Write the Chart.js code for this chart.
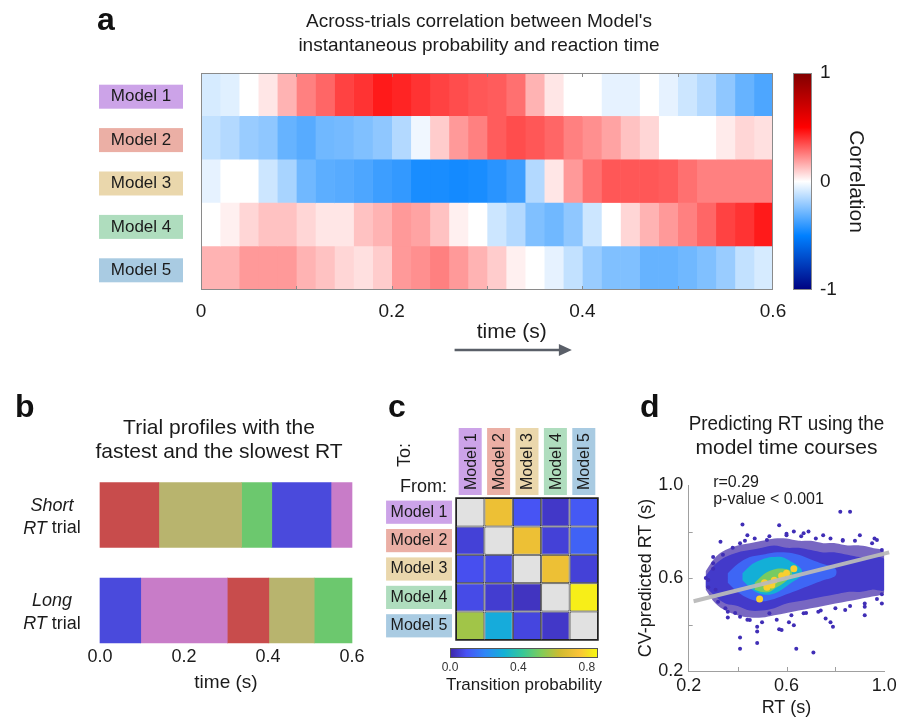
<!DOCTYPE html>
<html>
<head>
<meta charset="utf-8">
<script src="https://cdn.jsdelivr.net/npm/chart.js@4.4.1/dist/chart.umd.min.js"></script>
<style>
  body { margin: 0; background: #fff; }
  #wrap { position: relative; width: 905px; height: 719px; overflow: hidden; font-family: "Liberation Sans", Arial, sans-serif; }
  canvas { position: absolute; }
  .tag { position: absolute; font-weight: bold; font-size: 32px; line-height: 32px; color: #111; }
</style>
</head>
<body>
<div id="wrap">
  <canvas id="heat" width="905" height="360" style="left:0;top:0"></canvas>
  <canvas id="heatBar" width="125" height="360" style="left:780px;top:0"></canvas>
  <canvas id="trials" width="438" height="339" style="left:0;top:380px"></canvas>
  <canvas id="trans" width="250" height="339" style="left:380px;top:380px"></canvas>
  <canvas id="transBar" width="200" height="79" style="left:430px;top:640px"></canvas>
  <canvas id="pred" width="275" height="339" style="left:630px;top:380px"></canvas>
  <div class="tag" style="left:97px;top:3px">a</div>
  <div class="tag" style="left:15px;top:390px">b</div>
  <div class="tag" style="left:388px;top:390px">c</div>
  <div class="tag" style="left:640px;top:390px">d</div>
</div>
<script>
// ---- data ----
const MODELS = ['Model 1', 'Model 2', 'Model 3', 'Model 4', 'Model 5'];
const LABEL_COLORS = ['#CCA3E8', '#EBAFA5', '#EAD7AC', '#AFDDBE', '#A9CBE2'];

// panel a: correlation per 20 ms bin (bin start, s)
const TIME_BINS = [0, 0.02, 0.04, 0.06, 0.08, 0.10, 0.12, 0.14, 0.16, 0.18, 0.20, 0.22, 0.24, 0.26, 0.28,
  0.30, 0.32, 0.34, 0.36, 0.38, 0.40, 0.42, 0.44, 0.46, 0.48, 0.50, 0.52, 0.54, 0.56, 0.58];
const BIN_WIDTH = 0.02;
const CORR_M1 = [-0.08, -0.06, 0, 0.05, 0.15, 0.25, 0.3, 0.37, 0.4, 0.45, 0.43, 0.4, 0.37, 0.35, 0.33, 0.32, 0.28, 0.15, 0.05, 0, 0, -0.05, -0.05, 0, -0.05, -0.1, -0.15, -0.22, -0.3, -0.35];
const CORR_M2 = [-0.12, -0.15, -0.2, -0.22, -0.3, -0.33, -0.28, -0.27, -0.25, -0.22, -0.15, -0.03, 0.1, 0.2, 0.25, 0.32, 0.35, 0.33, 0.3, 0.25, 0.22, 0.18, 0.12, 0.08, 0, 0, 0, 0.04, 0.08, 0.06];
const CORR_M3 = [-0.05, 0, 0, -0.1, -0.17, -0.28, -0.32, -0.33, -0.35, -0.38, -0.4, -0.45, -0.45, -0.46, -0.45, -0.42, -0.38, -0.15, 0.05, 0.2, 0.28, 0.33, 0.33, 0.33, 0.32, 0.28, 0.25, 0.25, 0.25, 0.25];
const CORR_M4 = [0, 0.03, 0.08, 0.12, 0.12, 0.08, 0.05, 0.05, 0.12, 0.15, 0.2, 0.18, 0.12, 0.03, 0, -0.1, -0.15, -0.25, -0.28, -0.22, -0.1, 0, 0.08, 0.15, 0.2, 0.25, 0.3, 0.37, 0.4, 0.45];
const CORR_M5 = [0.15, 0.15, 0.2, 0.2, 0.2, 0.15, 0.12, 0.08, 0.06, 0.1, 0.2, 0.22, 0.25, 0.2, 0.15, 0.1, 0.03, 0, -0.05, -0.12, -0.2, -0.25, -0.25, -0.3, -0.3, -0.28, -0.25, -0.2, -0.12, -0.08];
const CORR_ROWS = [CORR_M1, CORR_M2, CORR_M3, CORR_M4, CORR_M5];
const HEAT_TICKS = [0.1, 0.2, 0.3, 0.4, 0.5];

// panel b: state sequence of the two example trials (s)
const TRIAL_LABELS = ['Short RT trial', 'Long RT trial'];
const STATE_COLORS = ['#C87CC8', '#C84C4C', '#B8B46E', '#6CC86E', '#4A4ADC'];
const SHORT_BOUNDS = [0, 0.14, 0.337, 0.409, 0.55, 0.6];
const SHORT_STATES = [2, 3, 4, 5, 1];
const LONG_BOUNDS = [0, 0.097, 0.303, 0.402, 0.51, 0.6];
const LONG_STATES = [5, 1, 2, 3, 4];

// panel c: transition probability, from (row) -> to (column)
const TRANS = [
  [null, 0.72, 0.10, 0.04, 0.11],
  [0.06, null, 0.72, 0.06, 0.13],
  [0.09, 0.08, null, 0.72, 0.06],
  [0.08, 0.05, 0.03, null, 0.84],
  [0.58, 0.30, 0.07, 0.04, null]
];
const TRANS_MAX = 0.865;

// panel d: density cloud outlines (x = RT, y = predicted RT) and sparse points
const CLOUD_X = [0.27, 0.31, 0.35, 0.40, 0.45, 0.50, 0.55, 0.60, 0.65, 0.70, 0.75, 0.80, 0.85, 0.90, 0.95, 1.00];
const OUTER_TOP = [0.63, 0.69, 0.72, 0.74, 0.75, 0.76, 0.77, 0.77, 0.76, 0.76, 0.75, 0.75, 0.74, 0.74, 0.73, 0.71];
const OUTER_BOTTOM = [0.55, 0.49, 0.46, 0.44, 0.43, 0.43, 0.44, 0.45, 0.46, 0.47, 0.48, 0.49, 0.50, 0.51, 0.52, 0.54];
const SOLID_TOP = [0.61, 0.66, 0.69, 0.71, 0.72, 0.73, 0.74, 0.73, 0.73, 0.72, 0.71, 0.71, 0.70, 0.69, 0.69, 0.68];
const SOLID_BOTTOM = [0.56, 0.52, 0.49, 0.48, 0.46, 0.46, 0.47, 0.49, 0.50, 0.51, 0.52, 0.53, 0.54, 0.54, 0.55, 0.55];
const CORE_X = [0.36, 0.40, 0.45, 0.50, 0.55, 0.60, 0.65, 0.70, 0.75, 0.80];
const CORE_TOP = [0.62, 0.66, 0.69, 0.70, 0.71, 0.71, 0.70, 0.68, 0.66, 0.64];
const CORE_BOTTOM = [0.58, 0.54, 0.51, 0.50, 0.51, 0.53, 0.55, 0.57, 0.59, 0.61];
const CYAN_X = [0.42, 0.46, 0.50, 0.54, 0.58, 0.62, 0.66];
const CYAN_TOP = [0.62, 0.66, 0.68, 0.69, 0.69, 0.67, 0.64];
const CYAN_BOTTOM = [0.59, 0.55, 0.53, 0.53, 0.55, 0.58, 0.61];
const HOT_X = [0.47, 0.50, 0.53, 0.56, 0.59, 0.62];
const HOT_TOP = [0.58, 0.61, 0.63, 0.64, 0.64, 0.63];
const HOT_BOTTOM = [0.55, 0.54, 0.54, 0.56, 0.58, 0.61];
const HOT_SPOTS = [[0.52, 0.56], [0.55, 0.59], [0.58, 0.61], [0.49, 0.51], [0.54, 0.57], [0.60, 0.62], [0.63, 0.64], [0.51, 0.58]];
const SPECKLES = [
  [0.82, 0.885], [0.86, 0.885], [0.42, 0.83], [0.57, 0.827], [0.44, 0.784], [0.60, 0.784], [0.67, 0.792], [0.75, 0.784],
  [0.90, 0.784], [0.33, 0.756], [0.41, 0.749], [0.52, 0.763], [0.83, 0.763], [0.97, 0.763], [0.30, 0.663], [0.28, 0.591],
  [0.32, 0.498], [0.36, 0.455], [0.41, 0.433], [0.45, 0.419], [0.48, 0.39], [0.41, 0.344], [0.58, 0.376], [0.63, 0.397],
  [0.76, 0.426], [0.79, 0.39], [0.84, 0.462], [0.92, 0.476], [0.99, 0.49], [0.53, 0.448], [0.67, 0.448], [0.73, 0.455],
  [0.41, 0.296], [0.48, 0.32], [0.64, 0.296], [0.71, 0.28], [0.48, 0.37], [0.57, 0.38], [0.61, 0.41], [0.78, 0.41],
  [0.92, 0.44], [0.36, 0.43], [0.30, 0.69], [0.96, 0.77], [0.69, 0.80], [0.63, 0.80],
  [0.30, 0.64], [0.31, 0.55], [0.34, 0.70], [0.35, 0.47], [0.38, 0.73], [0.39, 0.45], [0.43, 0.76], [0.44, 0.42],
  [0.47, 0.77], [0.50, 0.41], [0.53, 0.78], [0.56, 0.42], [0.60, 0.79], [0.62, 0.44], [0.66, 0.78], [0.68, 0.45],
  [0.72, 0.77], [0.74, 0.46], [0.78, 0.77], [0.80, 0.47], [0.83, 0.76], [0.86, 0.48], [0.88, 0.76], [0.92, 0.49],
  [0.95, 0.75], [0.97, 0.51], [0.99, 0.72], [0.99, 0.53], [0.27, 0.60], [0.28, 0.56]
];
const FIT_X = [0.22, 1.02];
const FIT_Y = [0.50, 0.71];
const PRED_TICKS = [0.4, 0.6, 0.8];

// ---- colours ----
const FONT = '"Liberation Sans", Arial, sans-serif';
const INK = '#1b1b1b';
Chart.defaults.font.family = FONT;
Chart.defaults.color = INK;

const CORR_STOPS = [[-1, [0, 0, 128]], [-0.5, [0, 128, 255]], [0, [255, 255, 255]], [0.5, [255, 0, 0]], [1, [128, 0, 0]]];
const PARULA_STOPS = [[0, [62, 38, 168]], [0.111, [72, 82, 244]], [0.238, [46, 135, 247]], [0.365, [18, 177, 214]],
  [0.492, [55, 200, 151]], [0.619, [129, 204, 89]], [0.746, [209, 187, 48]], [0.873, [250, 195, 55]],
  [0.94, [245, 225, 35]], [1, [249, 251, 14]]];

function ramp(stops, v, alpha) {
  let c = stops[stops.length - 1][1];
  if (v <= stops[0][0]) c = stops[0][1];
  else {
    for (let i = 1; i < stops.length; i++) {
      if (v <= stops[i][0]) {
        const [v0, c0] = stops[i - 1], [v1, c1] = stops[i];
        const f = (v - v0) / (v1 - v0);
        c = c0.map((ch, k) => ch + (c1[k] - ch) * f);
        break;
      }
    }
  }
  const a = alpha == null ? 1 : alpha;
  return 'rgba(' + c.map(Math.round).join(',') + ',' + a + ')';
}

const noChrome = { legend: { display: false }, tooltip: { enabled: false } };
const noGrid = { display: false, drawTicks: false };

// ---- panel a: heatmap ----
const heatSets = TIME_BINS.map((t, k) => ({
  data: CORR_ROWS.map(() => [t, t + BIN_WIDTH]),
  backgroundColor: CORR_ROWS.map(r => ramp(CORR_STOPS, r[k])),
  borderWidth: 0, grouped: false, barPercentage: 1, categoryPercentage: 1
}));

const heatExtras = {
  id: 'heatExtras',
  afterDraw(chart) {
    const { ctx, chartArea: a, scales: { x } } = chart;
    ctx.save();
    ctx.strokeStyle = '#8a8a8a';
    ctx.lineWidth = 1;
    ctx.strokeRect(a.left + 0.5, a.top + 0.5, a.width - 1, a.height - 1);
    ctx.beginPath();
    HEAT_TICKS.forEach(t => {
      const px = Math.round(x.getPixelForValue(t)) + 0.5;
      ctx.moveTo(px, a.top); ctx.lineTo(px, a.top + 4);
      ctx.moveTo(px, a.bottom); ctx.lineTo(px, a.bottom - 4);
    });
    ctx.stroke();
    // axis caption with arrow
    ctx.fillStyle = INK;
    ctx.font = '21px ' + FONT;
    ctx.textAlign = 'center';
    ctx.textBaseline = 'middle';
    ctx.fillText('time (s)', x.getPixelForValue(0.326), a.bottom + 42);
    const x0 = x.getPixelForValue(0.266), x1 = x.getPixelForValue(0.389), ya = a.bottom + 60;
    ctx.strokeStyle = '#5a5f68';
    ctx.fillStyle = '#5a5f68';
    ctx.lineWidth = 2.5;
    ctx.beginPath(); ctx.moveTo(x0, ya); ctx.lineTo(x1 - 8, ya); ctx.stroke();
    ctx.beginPath(); ctx.moveTo(x1, ya); ctx.lineTo(x1 - 13, ya - 6); ctx.lineTo(x1 - 13, ya + 6); ctx.closePath(); ctx.fill();
    ctx.restore();
  }
};

new Chart(document.getElementById('heat'), {
  type: 'bar',
  data: { labels: MODELS, datasets: heatSets },
  options: {
    indexAxis: 'y', responsive: false, animation: false,
    layout: { padding: { left: 90, right: 37, top: 0, bottom: 0 } },
    plugins: Object.assign({
      title: {
        display: true, fullSize: true,
        text: ["Across-trials correlation between Model's", 'instantaneous probability and reaction time'],
        font: { size: 19, weight: 'normal', lineHeight: 1.263 }, color: INK,
        padding: { top: 10, bottom: 15 }
      }
    }, noChrome),
    scales: {
      x: {
        type: 'linear', min: 0, max: 0.6,
        grid: noGrid, border: { display: false },
        ticks: { stepSize: 0.2, padding: 10.6, font: { size: 19 }, color: INK,
          callback: v => v === 0 ? '0' : v.toFixed(1) },
        afterFit: s => { s.height = 70; }
      },
      y: {
        grid: noGrid, border: { display: false },
        ticks: {
          padding: 29.75, labelOffset: 2, font: { size: 17 }, color: INK,
          showLabelBackdrop: true,
          backdropColor: c => LABEL_COLORS[c.index],
          backdropPadding: { top: 1.8, bottom: 1.8, left: 11.75, right: 11.75 }
        },
        afterFit: s => { s.width = 111; }
      },
      // empty spacer on the right so the title centres like the original
      yRight: {
        type: 'category', labels: MODELS, position: 'right',
        grid: noGrid, border: { display: false }, ticks: { display: false },
        afterFit: s => { s.width = 95; }
      }
    }
  },
  plugins: [heatExtras]
});

// colour bar of panel a
const corrBar = {
  id: 'corrBar',
  afterDraw(chart) {
    const { ctx, chartArea: a, scales: { y } } = chart;
    const g = ctx.createLinearGradient(0, y.getPixelForValue(-1), 0, y.getPixelForValue(1));
    CORR_STOPS.forEach(([v]) => {
      for (let s = 0; s <= 4; s++) {
        const vv = Math.min(1, v + s * 0.1);
        g.addColorStop((vv + 1) / 2, ramp(CORR_STOPS, vv));
      }
    });
    ctx.save();
    ctx.fillStyle = g;
    ctx.fillRect(a.left, a.top, a.width, a.height);
    ctx.strokeStyle = '#8a8a8a';
    ctx.lineWidth = 1;
    ctx.strokeRect(a.left + 0.5, a.top + 0.5, a.width - 1, a.height - 1);
    ctx.restore();
  }
};

new Chart(document.getElementById('heatBar'), {
  type: 'bar',
  data: { labels: [], datasets: [] },
  options: {
    responsive: false, animation: false,
    layout: { padding: { left: 13, right: 0, top: 73, bottom: 70 } },
    plugins: noChrome,
    scales: {
      x: { display: false },
      y: {
        position: 'right', min: -1, max: 1,
        grid: noGrid, border: { display: false },
        ticks: { stepSize: 1, padding: 8, font: { size: 19 }, color: INK },
        title: { display: true, text: 'Correlation', font: { size: 21 }, color: INK, padding: { top: 37, bottom: 0 } },
        afterFit: s => { s.width = 93; }
      }
    }
  },
  plugins: [corrBar]
});

// ---- panel b: trial profiles ----
const trialSets = SHORT_STATES.map((st, k) => ({
  data: [[SHORT_BOUNDS[k], SHORT_BOUNDS[k + 1]], [LONG_BOUNDS[k], LONG_BOUNDS[k + 1]]],
  backgroundColor: [STATE_COLORS[st - 1], STATE_COLORS[LONG_STATES[k] - 1]],
  borderWidth: 0, barThickness: 65, grouped: false, clip: false
}));

const trialLabels = {
  id: 'trialLabels',
  afterDraw(chart) {
    const { ctx, scales: { y } } = chart;
    const lines = [
      [[['Short', true]], [['RT', true], [' trial', false]]],
      [[['Long', true]], [['RT', true], [' trial', false]]]
    ];
    ctx.save();
    ctx.fillStyle = INK;
    ctx.textBaseline = 'middle';
    ctx.textAlign = 'left';
    lines.forEach((rows, i) => {
      const yc = y.getPixelForValue(i);
      rows.forEach((parts, r) => {
        const yy = yc + (r === 0 ? -9.5 : 13.5);
        const widths = parts.map(([t, it]) => { ctx.font = (it ? 'italic ' : '') + '18px ' + FONT; return ctx.measureText(t).width; });
        let xx = 52 - widths.reduce((s, w) => s + w, 0) / 2;
        parts.forEach(([t, it], p) => {
          ctx.font = (it ? 'italic ' : '') + '18px ' + FONT;
          ctx.fillText(t, xx, yy);
          xx += widths[p];
        });
      });
    });
    ctx.restore();
  }
};

new Chart(document.getElementById('trials'), {
  type: 'bar',
  data: { labels: TRIAL_LABELS, datasets: trialSets },
  options: {
    indexAxis: 'y', responsive: false, animation: false,
    layout: { padding: { left: 86, right: 86, top: 0, bottom: 0 } },
    plugins: Object.assign({
      title: {
        display: true, fullSize: true,
        text: ['Trial profiles with the', 'fastest and the slowest RT'],
        font: { size: 21, weight: 'normal', lineHeight: 1.143 }, color: INK,
        padding: { top: 36, bottom: 51 }
      }
    }, noChrome),
    scales: {
      x: {
        type: 'linear', min: 0, max: 0.6,
        grid: noGrid, border: { display: false },
        ticks: { stepSize: 0.2, padding: 35.7, font: { size: 18 }, color: INK, callback: v => v.toFixed(1) },
        title: { display: true, text: 'time (s)', font: { size: 19 }, color: INK, padding: { top: 0, bottom: 24.6 } },
        afterFit: s => { s.height = 108.5; }
      },
      y: {
        offset: false,
        grid: noGrid, border: { display: false },
        ticks: { display: false },
        afterFit: s => { s.width = 14; }
      }
    }
  },
  plugins: [trialLabels]
});

// ---- panel c: transition matrix ----
const transSets = MODELS.map((m, j) => ({
  data: MODELS.map(() => [j, j + 1]),
  backgroundColor: TRANS.map(row => row[j] == null ? '#E1E1E1' : ramp(PARULA_STOPS, row[j] / TRANS_MAX)),
  borderColor: '#262626', borderWidth: 1, borderSkipped: false,
  grouped: false, barPercentage: 1, categoryPercentage: 1, inflateAmount: 0
}));

const transExtras = {
  id: 'transExtras',
  afterDraw(chart) {
    const { ctx, chartArea: a, scales: { x } } = chart;
    ctx.save();
    ctx.font = '16px ' + FONT;
    MODELS.forEach((m, j) => {
      const cx = x.getPixelForValue(j + 0.5);
      ctx.fillStyle = LABEL_COLORS[j];
      ctx.fillRect(cx - 11.5, a.top - 70, 23, 67);
      ctx.save();
      ctx.translate(cx, a.top - 8);
      ctx.rotate(-Math.PI / 2);
      ctx.fillStyle = INK;
      ctx.textAlign = 'left';
      ctx.textBaseline = 'middle';
      ctx.fillText(m, 0, 1);
      ctx.restore();
    });
    ctx.fillStyle = INK;
    ctx.font = '18px ' + FONT;
    ctx.save();
    ctx.translate(a.left - 51, a.top - 43);
    ctx.rotate(-Math.PI / 2);
    ctx.textAlign = 'center';
    ctx.textBaseline = 'middle';
    ctx.fillText('To:', 0, 0);
    ctx.restore();
    ctx.textAlign = 'right';
    ctx.textBaseline = 'middle';
    ctx.fillText('From:', a.left - 9, a.top - 11);
    ctx.strokeStyle = '#222';
    ctx.lineWidth = 1.5;
    ctx.strokeRect(a.left, a.top, a.width, a.height);
    ctx.restore();
  }
};

new Chart(document.getElementById('trans'), {
  type: 'bar',
  data: { labels: MODELS, datasets: transSets },
  options: {
    indexAxis: 'y', responsive: false, animation: false,
    layout: { padding: { left: 0, right: 32, top: 118, bottom: 79 } },
    plugins: noChrome,
    scales: {
      x: { type: 'linear', min: 0, max: 5, display: false },
      y: {
        grid: noGrid, border: { display: false },
        ticks: {
          padding: 8.5, font: { size: 16 }, color: INK,
          showLabelBackdrop: true,
          backdropColor: c => LABEL_COLORS[c.index],
          backdropPadding: { top: 2, bottom: 2, left: 4.5, right: 4.5 }
        },
        afterFit: s => { s.width = 76; }
      }
    }
  },
  plugins: [transExtras]
});

const probBar = {
  id: 'probBar',
  afterDraw(chart) {
    const { ctx, chartArea: a, scales: { x } } = chart;
    const x0 = x.getPixelForValue(0), x1 = x.getPixelForValue(TRANS_MAX);
    const g = ctx.createLinearGradient(x0, 0, x1, 0);
    PARULA_STOPS.forEach(([t]) => g.addColorStop(t, ramp(PARULA_STOPS, t)));
    ctx.save();
    ctx.fillStyle = g;
    ctx.fillRect(x0, a.top, x1 - x0, a.height);
    ctx.strokeStyle = '#555';
    ctx.lineWidth = 1;
    ctx.strokeRect(x0 + 0.5, a.top + 0.5, x1 - x0 - 1, a.height - 1);
    ctx.fillStyle = INK;
    ctx.font = '17px ' + FONT;
    ctx.textAlign = 'center';
    ctx.textBaseline = 'middle';
    ctx.fillText('Transition probability', (x0 + x1) / 2, a.bottom + 27);
    ctx.restore();
  }
};

new Chart(document.getElementById('transBar'), {
  type: 'bar',
  data: { labels: [], datasets: [] },
  options: {
    responsive: false, animation: false,
    layout: { padding: { left: 20, right: 32, top: 8, bottom: 0 } },
    plugins: noChrome,
    scales: {
      y: { display: false },
      x: {
        type: 'linear', min: 0, max: TRANS_MAX, offset: false,
        grid: noGrid, border: { display: false },
        ticks: { stepSize: 0.4, includeBounds: false, padding: 2, font: { size: 12 }, color: '#333', callback: v => v.toFixed(1) },
        afterFit: s => { s.height = 61; }
      }
    }
  },
  plugins: [probBar]
});

// ---- panel d: prediction scatter ----
function envelope(xs, top, bottom, level, alpha, order) {
  const pts = xs.map((x, i) => ({ x, y: top[i] }))
    .concat(xs.map((x, i) => ({ x, y: bottom[i] })).reverse());
  return {
    data: pts, showLine: true, fill: 'shape', tension: 0.35,
    backgroundColor: ramp(PARULA_STOPS, level, alpha), borderWidth: 0, pointRadius: 0, order
  };
}

const predSets = [
  envelope(CLOUD_X, OUTER_TOP, OUTER_BOTTOM, 0.0, 0.7, 9),
  envelope(CLOUD_X, SOLID_TOP, SOLID_BOTTOM, 0.05, 1, 8),
  envelope(CORE_X, CORE_TOP, CORE_BOTTOM, 0.16, 1, 7),
  envelope(CYAN_X, CYAN_TOP, CYAN_BOTTOM, 0.36, 1, 6),
  envelope(HOT_X, HOT_TOP, HOT_BOTTOM, 0.6, 1, 5),
  {
    data: HOT_SPOTS.map(([x, y]) => ({ x, y })), order: 4,
    pointRadius: 3.5, pointBorderWidth: 0, backgroundColor: ramp(PARULA_STOPS, 0.9)
  },
  {
    data: SPECKLES.map(([x, y]) => ({ x, y })), order: 3,
    pointRadius: 2, pointBorderWidth: 0, backgroundColor: ramp(PARULA_STOPS, 0.02)
  },
  {
    data: FIT_X.map((x, i) => ({ x, y: FIT_Y[i] })), order: 1, clip: 10,
    showLine: true, borderColor: 'rgba(185,185,185,0.95)', borderWidth: 4, pointRadius: 0
  }
];

const predExtras = {
  id: 'predExtras',
  afterDraw(chart) {
    const { ctx, chartArea: a, scales: { x, y } } = chart;
    ctx.save();
    ctx.strokeStyle = '#a0a0a0';
    ctx.lineWidth = 1;
    ctx.beginPath();
    PRED_TICKS.forEach(v => {
      const px = Math.round(x.getPixelForValue(v)) + 0.5, py = Math.round(y.getPixelForValue(v)) + 0.5;
      ctx.moveTo(px, a.bottom); ctx.lineTo(px, a.bottom - 4);
      ctx.moveTo(a.left, py); ctx.lineTo(a.left + 4, py);
    });
    ctx.stroke();
    ctx.fillStyle = INK;
    ctx.font = '16px ' + FONT;
    ctx.textAlign = 'left';
    ctx.textBaseline = 'middle';
    ctx.fillText('r=0.29', x.getPixelForValue(0.3), a.top - 2);
    ctx.fillText('p-value < 0.001', x.getPixelForValue(0.3), a.top + 15);
    ctx.restore();
  }
};

const showMain = v => [2, 6, 10].includes(Math.round(v * 10)) ? v.toFixed(1) : '';

new Chart(document.getElementById('pred'), {
  type: 'scatter',
  data: { datasets: predSets },
  options: {
    responsive: false, animation: false,
    layout: { padding: { left: 0, right: 20.7, top: 0, bottom: 0 } },
    plugins: Object.assign({
      title: {
        display: true, fullSize: false,
        text: ['Predicting RT using the', 'model time courses'],
        font: { size: 21, weight: 'normal', lineHeight: 1.143 }, color: INK,
        padding: { top: 32, bottom: 25 }
      }
    }, noChrome),
    scales: {
      x: {
        type: 'linear', min: 0.2, max: 1.0,
        grid: noGrid, border: { color: '#a0a0a0' },
        ticks: { stepSize: 0.2, autoSkip: false, padding: 4.2, font: { size: 18 }, color: INK, callback: showMain },
        title: { display: true, text: 'RT (s)', font: { size: 18 }, color: INK, padding: { top: 0, bottom: 0.2 } },
        afterFit: s => { s.height = 48; }
      },
      y: {
        type: 'linear', min: 0.2, max: 1.0,
        grid: noGrid, border: { color: '#a0a0a0' },
        ticks: { stepSize: 0.2, autoSkip: false, padding: 5.5, font: { size: 18 }, color: INK, callback: showMain },
        title: { display: true, text: 'CV-predicted RT (s)', font: { size: 18 }, color: INK, padding: { top: 5.2, bottom: 0 } },
        afterFit: s => { s.width = 58.7; }
      }
    }
  },
  plugins: [predExtras]
});
</script>
</body>
</html>
